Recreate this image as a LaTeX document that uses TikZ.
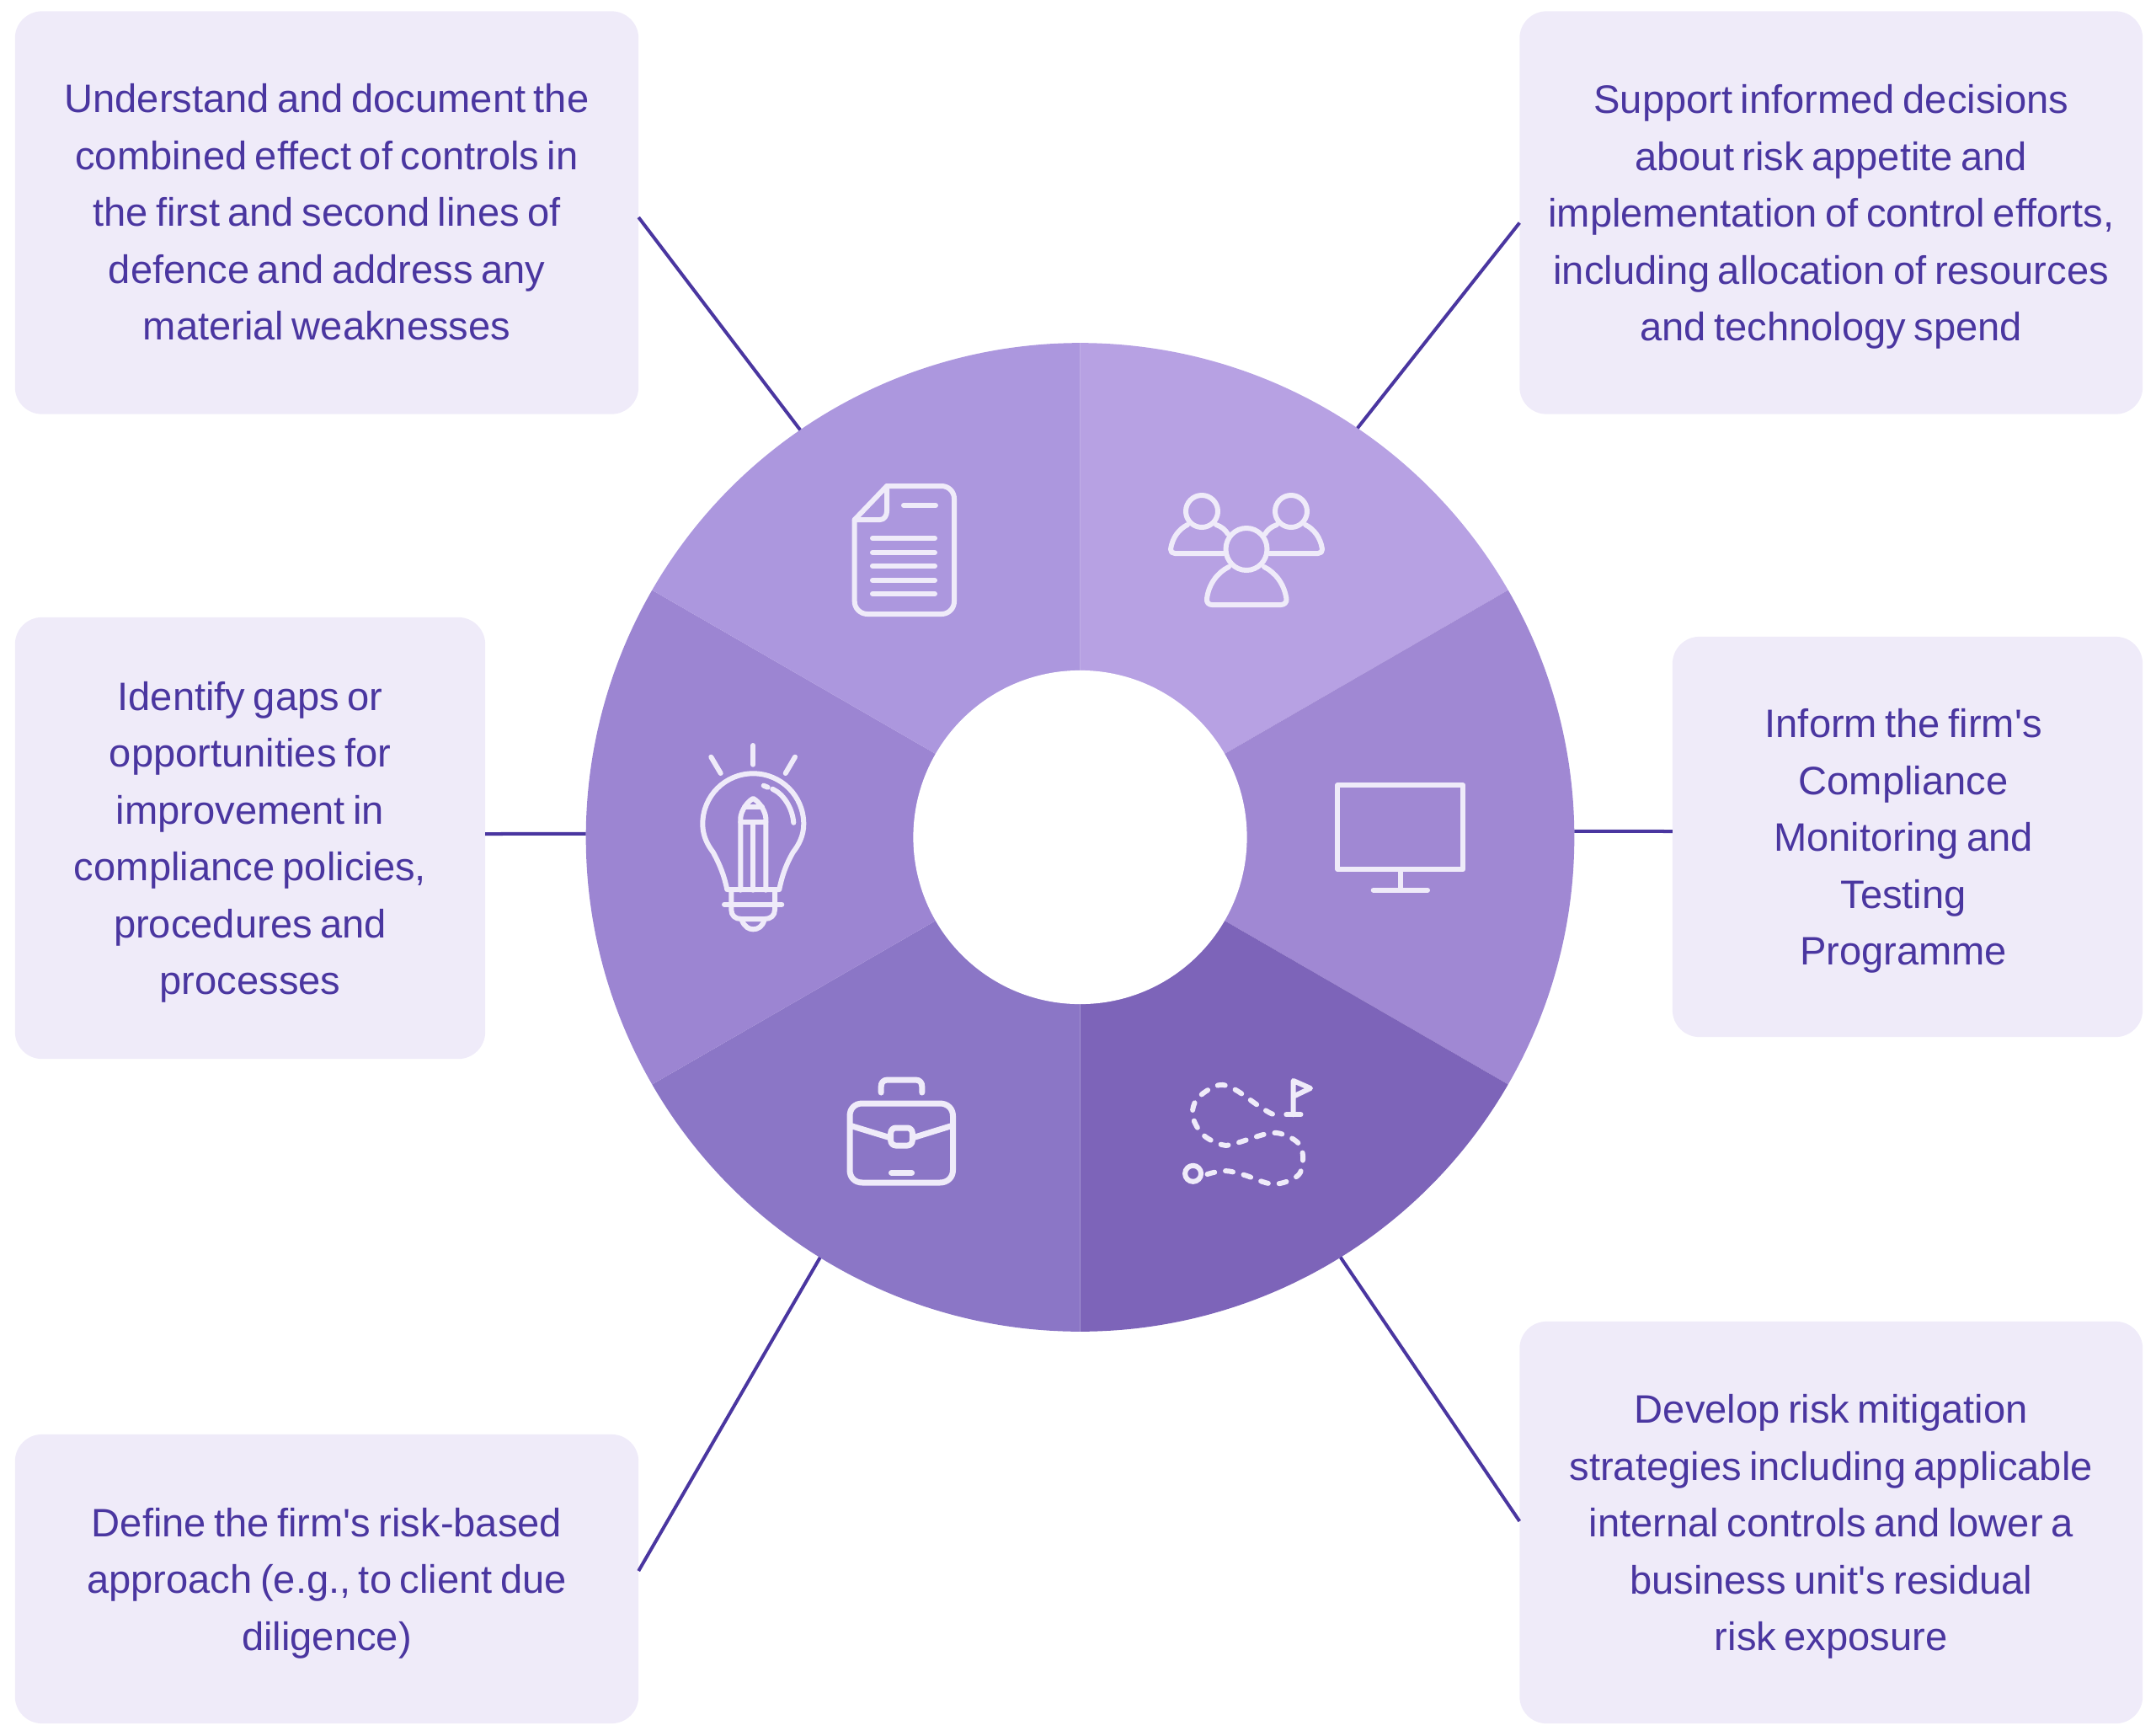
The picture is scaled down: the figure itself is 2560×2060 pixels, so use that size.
\documentclass[tikz,border=0pt]{standalone}
\usepackage{fontspec}
\usetikzlibrary{calc}
\newfontfamily\txtfont{Liberation Sans}[FakeStretch=1.0,WordSpace=0.72]
\definecolor{boxfill}{HTML}{EFEBF9}
\definecolor{ink}{HTML}{4A36A0}
\definecolor{secTR}{HTML}{B7A1E3}
\definecolor{secTL}{HTML}{AC97DE}
\definecolor{secR}{HTML}{A088D3}
\definecolor{secL}{HTML}{9C85D2}
\definecolor{secBR}{HTML}{7D64B9}
\definecolor{secBL}{HTML}{8B76C6}
\tikzset{
  infobox/.style={fill=boxfill,draw=none,rounded corners=0.32cm,inner sep=0,outer sep=0,align=center,text=ink,text depth=0pt,
    font=\txtfont\fontsize{13.4}{19.2}\selectfont},
  link/.style={draw=ink,line width=0.04cm},
  icon/.style={draw=boxfill,line width=0.06cm,line cap=round,line join=round},
}
\begin{document}
\begin{tikzpicture}[x=0.01cm,y=-0.01cm]
\useasboundingbox (0,0) rectangle (2560,2060);
% wheel
\begin{scope}[shift={(1282.5,994)},x=1cm,y=1cm]
  \fill[secTR] (0,0) -- (90:5.865) arc (90:30:5.865) -- cycle;
  \fill[secR]  (0,0) -- (30:5.865) arc (30:-30:5.865) -- cycle;
  \fill[secBR] (0,0) -- (-30:5.865) arc (-30:-90:5.865) -- cycle;
  \fill[secBL] (0,0) -- (-90:5.865) arc (-90:-150:5.865) -- cycle;
  \fill[secL]  (0,0) -- (-150:5.865) arc (-150:-210:5.865) -- cycle;
  \fill[secTL] (0,0) -- (150:5.865) arc (150:90:5.865) -- cycle;
  \fill[white] (0,0) circle (1.98);
  \coordinate (wTL) at (124.5:5.865);
  \coordinate (wTR) at (55.86:5.865);
  \coordinate (wL) at (179.6:5.865);
  \coordinate (wR) at (0.7:5.865);
  \coordinate (wBL) at (-121.75:5.865);
  \coordinate (wBR) at (-58.2:5.865);
\end{scope}
% boxes
\node[infobox,text depth=0.45pt,minimum width=7.4cm,minimum height=4.78cm] (bTL) at (388,252.5)
 {Understand and document the\\combined effect of controls in\\the first and second lines of\\defence and address any\\material weaknesses};
\node[infobox,minimum width=7.395cm,minimum height=4.78cm] (bTR) at (2174.25,252.5)
 {Support informed decisions\\about risk appetite and\\implementation of control efforts,\\including allocation of resources\\and technology spend};
\node[infobox,minimum width=5.58cm,minimum height=5.24cm] (bL) at (297,995)
 {Identify gaps or\\opportunities for\\improvement in\\compliance policies,\\procedures and\\processes};
\node[infobox,minimum width=5.58cm,minimum height=4.75cm] (bR) at (2265,993.5)
 {Inform the firm's\rule{2.8pt}{0pt}\\Compliance\rule{2.8pt}{0pt}\\Monitoring and\rule{2.8pt}{0pt}\\Testing\rule{2.8pt}{0pt}\\Programme\rule{2.8pt}{0pt}};
\node[infobox,minimum width=7.4cm,minimum height=3.43cm] (bBL) at (388,1874.5)
 {Define the firm's risk-based\\approach (e.g., to client due\\diligence)};
\node[infobox,minimum width=7.395cm,minimum height=4.77cm] (bBR) at (2174.25,1807.5)
 {Develop risk mitigation\\strategies including applicable\\internal controls and lower a\\business unit's residual\\risk exposure};
% connectors
\draw[link] ($(bTL.east)+(0,5.5)$) -- (wTL);
\draw[link] ($(bTR.west)+(0,12)$) -- (wTR);
\draw[link] ($(bL.east)+(0,-5)$) -- (wL);
\draw[link] ($(bR.west)+(0,-6.5)$) -- (wR);
\draw[link] ($(bBL.east)+(0,-9.5)$) -- (wBL);
\draw[link] ($(bBR.west)+(0,-1.5)$) -- (wBR);
% document icon
\draw[icon] (1053,577) -- (1118,577) to[out=0,in=90] (1133,592) -- (1133,714) to[out=-90,in=0] (1118,729) -- (1030,729) to[out=180,in=-90] (1014.7,714) -- (1014.7,617) -- cycle;
\draw[icon] (1053,577) -- (1053,607) to[out=-90,in=0] (1045,617) -- (1014.7,617);
\foreach \yy in {639,656,672,689,705} \draw[icon] (1036,\yy) -- (1110,\yy);
\draw[icon] (1073,600) -- (1111,600);
% people icon
\draw[icon] (1427,607) ellipse (0.19cm and 0.19cm);
\draw[icon] (1533,607) ellipse (0.19cm and 0.19cm);
\draw[icon] (1480,652) ellipse (0.245cm and 0.25cm);
\draw[icon] (1410,623) .. controls (1400,628) and (1392,638) .. (1390,652) .. controls (1389.5,655) and (1392,657) .. (1395,657) -- (1453,657);
\draw[icon] (1444,623) .. controls (1450,625) and (1455,629) .. (1458,634);
\draw[icon] (1550,623) .. controls (1560,628) and (1568,638) .. (1570,652) .. controls (1570.5,655) and (1568,657) .. (1565,657) -- (1507,657);
\draw[icon] (1516,623) .. controls (1510,625) and (1505,629) .. (1502,634);
\draw[icon] (1459,673) .. controls (1445,680) and (1435,694) .. (1433,711) .. controls (1432.5,715) and (1435,718) .. (1439,718) -- (1521,718) .. controls (1525,718) and (1528,715) .. (1527.5,711) .. controls (1525,694) and (1515,680) .. (1501,673);
% monitor icon
\draw[icon] (1588.3,932.3) rectangle (1737.3,1032);
\draw[icon] (1662.7,1032) -- (1662.7,1056.7);
\draw[icon] (1630.7,1056.7) -- (1695,1056.7);
% bulb icon
\draw[icon] (894.3,885) -- (894.3,907.7);
\draw[icon] (844.3,898.7) -- (855.7,918);
\draw[icon] (944,898.7) -- (932.7,918);
\draw[icon] (863.3,1056) .. controls (860,1040) and (855,1027) .. (846.7,1011.7) .. controls (840,1003) and (834.3,992) .. (834.3,978.3) .. controls (834.3,945) and (861,918.3) .. (894.3,918.3) .. controls (927.5,918.3) and (954.3,945) .. (954.3,978.3) .. controls (954.3,992) and (948.5,1003) .. (941.7,1011.7) .. controls (933,1027) and (928.5,1040) .. (925.3,1056) -- cycle;
\draw[icon] (868.3,1056.7) -- (868.3,1080) .. controls (868.3,1087) and (873,1091) .. (880,1091) -- (908,1091) .. controls (915,1091) and (920,1087) .. (920,1080) -- (920,1056.7);
\draw[icon] (860,1073.7) -- (928.3,1073.7);
\draw[icon] (881,1093) .. controls (884,1100) and (889,1103.3) .. (894.3,1103.3) .. controls (900,1103.3) and (905,1100) .. (907.3,1093);
\draw[icon] (879.3,1056.7) -- (879.3,971) .. controls (880,962) and (888,951) .. (894.3,948) .. controls (900.6,951) and (908.6,962) .. (909.3,971) -- (909.3,1056.7);
\draw[icon] (894.3,976) -- (894.3,1056.7);
\draw[icon] (879.3,976) -- (909.3,976);
\draw[icon] (884,958) -- (905,958);
\draw[icon] (906.7,932.7) -- (911.7,934.7);
\draw[icon] (917.3,936.7) .. controls (931,943) and (941,960) .. (942.3,976.7);
% briefcase icon
\draw[icon,line width=0.07cm] (1024,1310) -- (1116,1310) .. controls (1125,1310) and (1131.5,1316) .. (1131.5,1325) -- (1131.5,1389) .. controls (1131.5,1398) and (1125,1404) .. (1116,1404) -- (1024,1404) .. controls (1015,1404) and (1009,1398) .. (1009,1389) -- (1009,1325) .. controls (1009,1316) and (1015,1310) .. (1024,1310) -- cycle;
\draw[icon,line width=0.07cm] (1046.2,1297) -- (1046.2,1290) .. controls (1046.2,1285) and (1049,1282) .. (1054,1282) -- (1087,1282) .. controls (1092,1282) and (1094.8,1285) .. (1094.8,1290) -- (1094.8,1297);
\draw[icon,line width=0.07cm] (1011,1336.7) -- (1054.6,1350);
\draw[icon,line width=0.07cm] (1129.5,1336.7) -- (1086.4,1350);
\draw[icon,line width=0.07cm,rounded corners=0.06cm] (1057.7,1339) rectangle (1083.3,1360);
\draw[icon,line width=0.07cm] (1058.5,1392.3) -- (1082.6,1392.3);
% route icon
\draw[icon] (1416.6,1393.3) circle (0.095cm);
\draw[icon,dash pattern=on 0.09cm off 0.13cm] plot[smooth,tension=0.6] coordinates {(1433.5,1394) (1454.5,1390) (1477.5,1395) (1512,1405.7) (1540.6,1396) (1547,1376.7) (1542.6,1358.3) (1523.4,1346.7) (1504.3,1346) (1466,1357.7) (1450.7,1359) (1429.7,1348.3) (1418.2,1331.7) (1416.3,1316.7) (1424,1301.7) (1446.9,1288.3) (1466,1293.3) (1492.8,1311.7) (1510,1322.3) (1519.6,1323.3)};
\draw[icon] (1535.7,1323.3) -- (1535.7,1283) -- (1556,1292) -- (1535.7,1301.7);
\draw[icon] (1527.3,1323.3) -- (1544.5,1323.3);
\end{tikzpicture}
\end{document}
